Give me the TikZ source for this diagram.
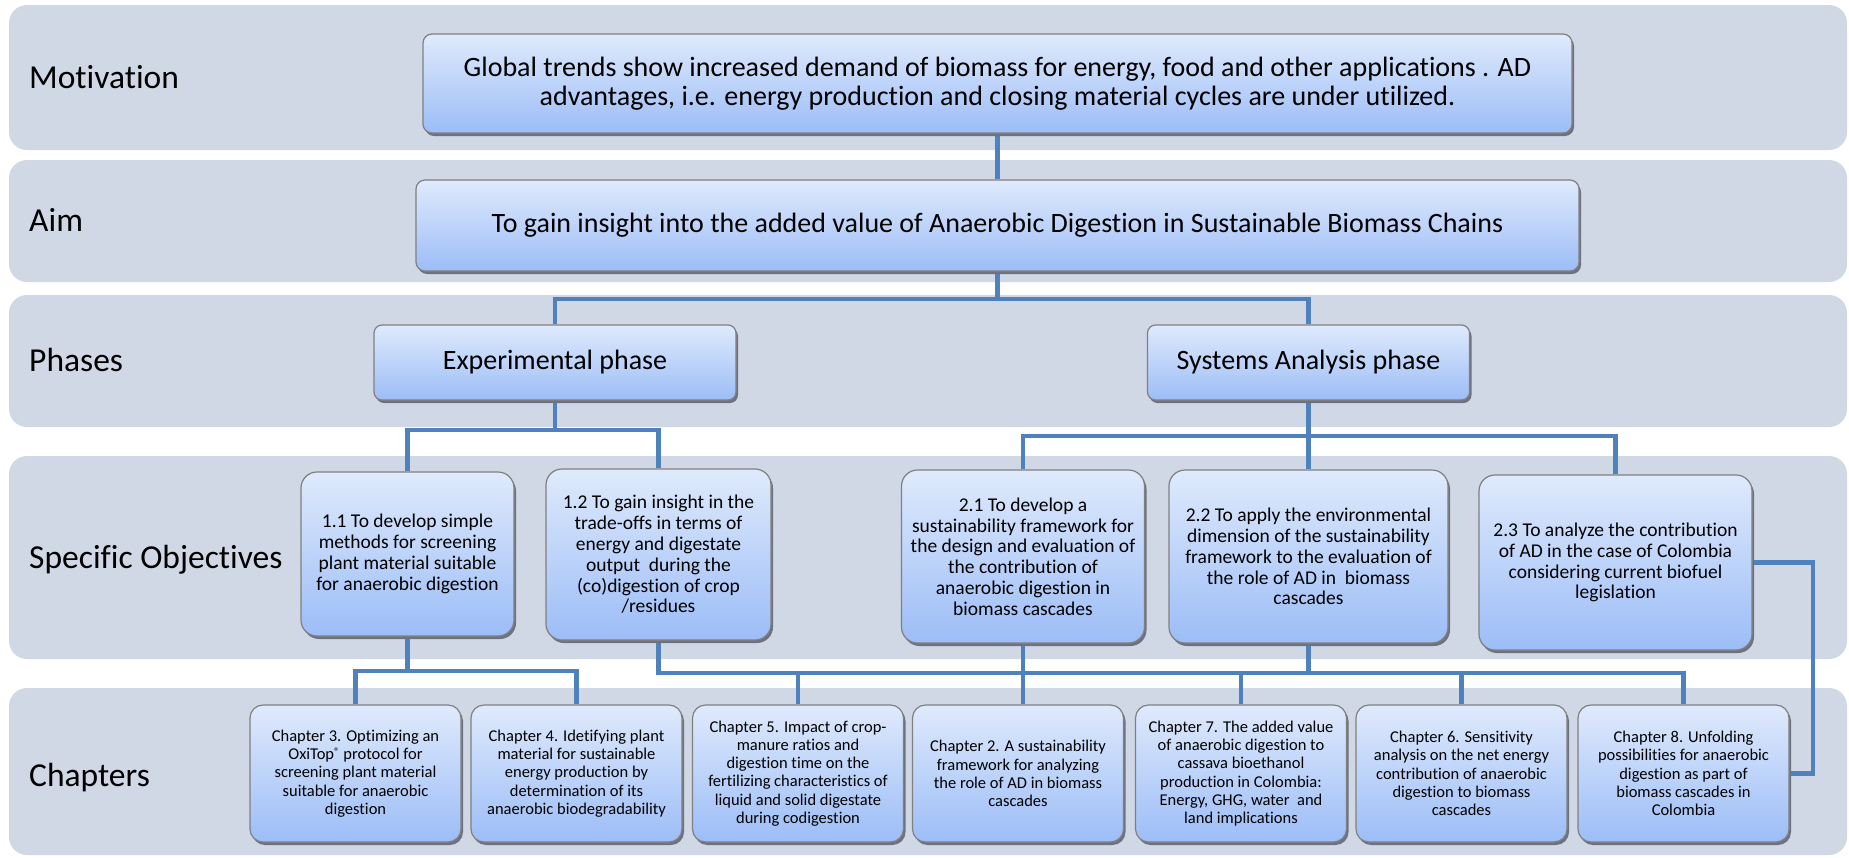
\documentclass[tikz,border=0pt]{standalone}
\usepackage{fontspec}
\setmainfont{Carlito}[Ligatures={NoCommon,NoContextual}]
\usetikzlibrary{shadows}
\pgfdeclarelayer{bg}
\pgfsetlayers{bg,main}
\definecolor{band}{RGB}{208,216,230}
\definecolor{boxtop}{RGB}{223,234,252}
\definecolor{boxbot}{RGB}{156,189,247}
\definecolor{boxedge}{RGB}{128,128,128}
\definecolor{shadowc}{RGB}{110,114,128}
\definecolor{conn}{RGB}{79,129,189}
\begin{document}
\begin{tikzpicture}[x=1pt,y=-1pt,
  bandbox/.style={fill=band, draw=none, rounded corners=18pt},
  lbl/.style={anchor=base west, font=\fontsize{33.5}{40}\selectfont, inner sep=0pt},
  sbox/.style={draw=boxedge, line width=1.2pt, top color=boxtop, bottom color=boxbot, align=center, inner sep=2pt,
    drop shadow={shadow xshift=2pt, shadow yshift=-3pt, fill=shadowc, opacity=1}},
  topbox/.style={sbox, rounded corners=9pt, font=\fontsize{28}{29.5}\selectfont},
  phbox/.style={sbox, rounded corners=8pt, font=\fontsize{28}{30}\selectfont, minimum height=75pt},
  objbox/.style={sbox, rounded corners=16pt, font=\fontsize{19.5}{20.8}\selectfont},
  chbox/.style={sbox, rounded corners=13pt, font=\fontsize{16.5}{18.3}\selectfont, minimum width=211pt, minimum height=137pt},
  link/.style={draw=conn, line width=4.5pt, line join=miter}
]
\useasboundingbox (0,0) rectangle (1849,857);

% labels
\node[lbl] (lmot) at (29,88) {Motivation};
\node[lbl] (laim) at (29,231) {Aim};
\node[lbl] (lph) at (29,371) {Phases};
\node[lbl] (lso) at (29,568) {Specific Objectives};
\node[lbl] (lch) at (29,786) {Chapters};

% top boxes
\node[topbox, minimum width=1149pt, minimum height=99pt] (mot) at (997.5,83.5)
  {Global trends show increased demand of biomass for energy, food and other applications . AD\\advantages, i.e. energy production and closing material cycles are under utilized.};
\node[topbox, minimum width=1163pt, minimum height=91pt] (aim) at (997.5,225.5)
  {To gain insight into the added value of Anaerobic Digestion in Sustainable Biomass Chains};

% phases
\node[phbox, minimum width=362pt] (exp) at (555,362.5) {Experimental phase};
\node[phbox, minimum width=322pt] (sys) at (1308.5,362.5) {Systems Analysis phase};

% objectives
\node[objbox, minimum width=213pt, minimum height=164pt] (o11) at (407.5,554)
  {1.1 To develop simple\\methods for screening\\plant material suitable\\for anaerobic digestion};
\node[objbox, minimum width=225pt, minimum height=171pt] (o12) at (658.5,554.5)
  {1.2 To gain insight in the\\trade-offs in terms of\\energy and digestate\\output\ \ during the\\(co)digestion of crop\\/residues};
\node[objbox, minimum width=243pt, minimum height=173pt] (o21) at (1023,556.5)
  {2.1 To develop a\\sustainability framework for\\the design and evaluation of\\the contribution of\\anaerobic digestion in\\biomass cascades};
\node[objbox, minimum width=279pt, minimum height=173pt] (o22) at (1308.5,556.5)
  {2.2 To apply the environmental\\dimension of the sustainability\\framework to the evaluation of\\the role of AD in\ \ biomass\\cascades};
\node[objbox, minimum width=273pt, minimum height=175pt] (o23) at (1615.5,562.5)
  {2.3 To analyze the contribution\\of AD in the case of Colombia\\considering current biofuel\\legislation};

% chapters
\node[chbox] (ch3) at (355.5,773.5)
  {Chapter 3. Optimizing an\\OxiTop\raisebox{0.5ex}{\fontsize{11}{11}\selectfont ®} protocol for\\screening plant material\\suitable for anaerobic\\digestion};
\node[chbox] (ch4) at (576.5,773.5)
  {Chapter 4. Idetifying plant\\material for sustainable\\energy production by\\determination of its\\anaerobic biodegradability};
\node[chbox] (ch5) at (798,773.5)
  {Chapter 5. Impact of crop-\\manure ratios and\\digestion time on the\\fertilizing characteristics of\\liquid and solid digestate\\during codigestion};
\node[chbox] (ch2) at (1018,773.5)
  {Chapter 2. A sustainability\\framework for analyzing\\the role of AD in biomass\\cascades};
\node[chbox] (ch7) at (1241,773.5)
  {Chapter 7. The added value\\of anaerobic digestion to\\cassava bioethanol\\production in Colombia:\\Energy, GHG, water\ \ and\\land implications};
\node[chbox] (ch6) at (1461.5,773.5)
  {Chapter 6. Sensitivity\\analysis on the net energy\\contribution of anaerobic\\digestion to biomass\\cascades};
\node[chbox] (ch8) at (1683.5,773.5)
  {Chapter 8. Unfolding\\possibilities for anaerobic\\digestion as part of\\biomass cascades in\\Colombia};

\begin{pgfonlayer}{bg}
  \fill[bandbox] (9,5) rectangle (1847,150);
  \fill[bandbox] (9,160) rectangle (1847,282);
  \fill[bandbox] (9,295) rectangle (1847,427);
  \fill[bandbox] (9,456) rectangle (1847,659);
  \fill[bandbox] (9,688) rectangle (1847,855);

  \coordinate (jA) at (997.5,299);
  \coordinate (jE) at (555,430);
  \coordinate (jS) at (1308.5,436);
  \coordinate (j11) at (407.5,671);
  \coordinate (b12) at (658.5,673);
  \coordinate (b22) at (1308.5,673);
  \coordinate (r8) at (1813,562);

  \draw[link] (mot.south) -- (aim.north);
  \draw[link] (aim.south) -- (jA);
  \draw[link] (exp.north) |- (jA) -| (sys.north);

  \draw[link] (exp.south) -- (jE);
  \draw[link] (o11.north) |- (jE) -| (o12.north);

  \draw[link] (sys.south) -- (jS);
  \draw[link] (o21.north) |- (jS) -| (o23.north);
  \draw[link] (jS) -- (o22.north);

  \draw[link] (o11.south) -- (j11);
  \draw[link] (ch3.north) |- (j11) -| (ch4.north);

  \draw[link] (o12.south) -- (b12) -- (b22);
  \draw[link] (b12 -| ch5.north) -- (ch5.north);
  \draw[link] (o22.south) -- (b22) -| (ch8.north);
  \draw[link] (b22 -| ch7.north) -- (ch7.north);
  \draw[link] (b22 -| ch6.north) -- (ch6.north);
  \draw[link] (o21.south) -- (o21.south |- ch2.north);

  \draw[link] (o23.east) -- (o23.east -| r8) |- (ch8.east);
\end{pgfonlayer}
\end{tikzpicture}
\end{document}
